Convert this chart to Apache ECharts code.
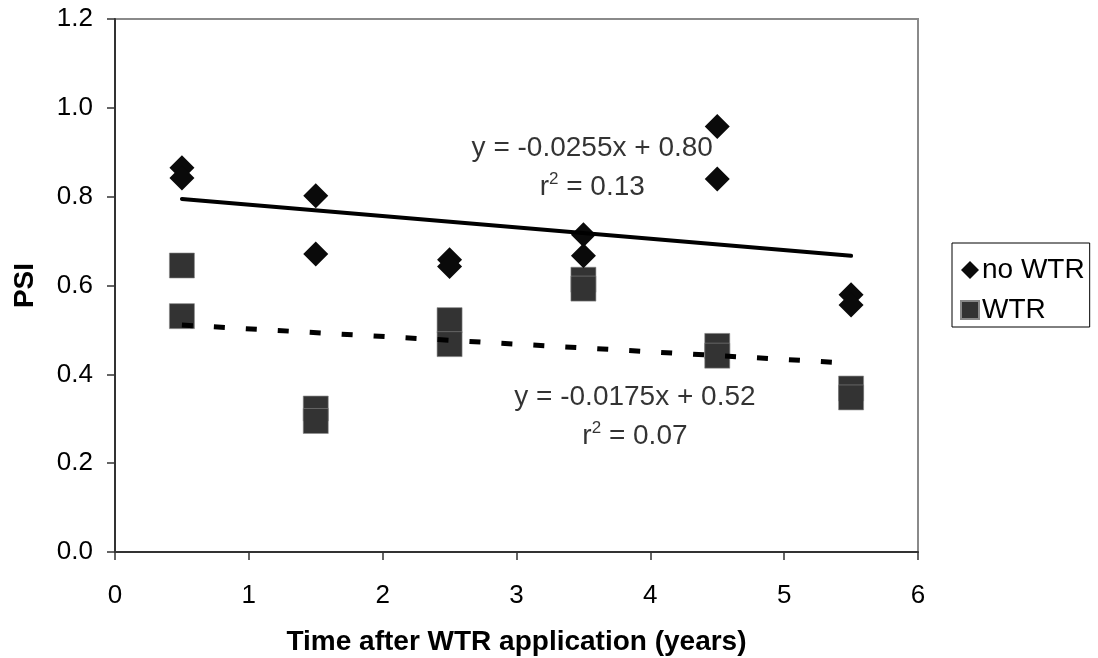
<!DOCTYPE html>
<html>
<head>
<meta charset="utf-8">
<script src="https://cdn.jsdelivr.net/npm/echarts@6/dist/echarts.min.js"></script>
<style>html,body{margin:0;padding:0;background:#fff}#c{width:1098px;height:658px}</style>
</head>
<body>
<div id="c"></div>
<script>
// Data
const xValues = [0.5, 0.5, 1.5, 1.5, 2.5, 2.5, 3.5, 3.5, 4.5, 4.5, 5.5, 5.5];
const noWTR = [0.865, 0.842, 0.802, 0.671, 0.658, 0.643, 0.714, 0.667, 0.958, 0.840, 0.579, 0.556];
const WTR   = [0.645, 0.531, 0.323, 0.295, 0.522, 0.468, 0.613, 0.593, 0.464, 0.442, 0.368, 0.348];
const trendNoWTR = [[0.5, 0.795], [5.5, 0.667]];
const trendWTR   = [[0.5, 0.511], [5.5, 0.425]];
const eqNoWTR = {x: 3.566, y: 0.866, line1: 'y = -0.0255x + 0.80', r2: '0.13'};
const eqWTR   = {x: 3.885, y: 0.305, line1: 'y = -0.0175x + 0.52', r2: '0.07'};
const xTicks = {min: 0, max: 6, interval: 1};
const yTicks = {min: 0, max: 1.2, interval: 0.2};

const FONT = '"Liberation Sans", Arial, sans-serif';
const chart = echarts.init(document.getElementById('c'), null, {renderer: 'canvas'});

function eqLabel(eq) {
  return {
    show: true,
    position: 'inside',
    formatter: eq.line1 + '\n{r|r}{sup|2}{r| = ' + eq.r2 + '}',
    color: '#000',
    fontFamily: FONT,
    fontSize: 28,
    lineHeight: 39,
    align: 'center',
    verticalAlign: 'middle',
    rich: {
      r: {fontFamily: FONT, fontSize: 28, color: '#000', lineHeight: 39},
      sup: {fontFamily: FONT, fontSize: 17, color: '#000', lineHeight: 39, padding: [0, 0, 15, 0]}
    }
  };
}

chart.setOption({
  animation: false,
  backgroundColor: '#fff',
  grid: {left: 115, right: 180, top: 19, bottom: 106, outerBoundsMode: 'none', containLabel: false,
         show: true, borderColor: '#8a8a8a', borderWidth: 2, backgroundColor: 'transparent'},
  legend: {
    data: ['no WTR', 'WTR'],
    orient: 'vertical',
    left: 952, top: 243,
    padding: [13, 5, 3, 8],
    itemGap: 12,
    itemWidth: 18, itemHeight: 18,
    borderColor: '#000', borderWidth: 1,
    textStyle: {fontFamily: FONT, fontSize: 28, color: '#000', padding: [0, 0, 0, -2]}
  },
  xAxis: {
    type: 'value', min: xTicks.min, max: xTicks.max, interval: xTicks.interval,
    name: 'Time after WTR application (years)', nameLocation: 'middle', nameGap: 76,
    nameTextStyle: {fontFamily: FONT, fontSize: 28, fontWeight: 'bold', color: '#000'},
    axisLine: {show: true, onZero: false, lineStyle: {color: '#333', width: 2}},
    axisTick: {show: true, length: 8, inside: false, lineStyle: {color: '#333', width: 1.5}},
    axisLabel: {fontFamily: FONT, fontSize: 26, color: '#000', margin: 31},
    splitLine: {show: false}
  },
  yAxis: {
    type: 'value', min: yTicks.min, max: yTicks.max, interval: yTicks.interval,
    name: 'PSI', nameLocation: 'middle', nameGap: 76,
    nameTextStyle: {fontFamily: FONT, fontSize: 28, fontWeight: 'bold', color: '#000'},
    axisLine: {show: true, onZero: false, lineStyle: {color: '#333', width: 2}},
    axisTick: {show: true, length: 8, lineStyle: {color: '#333', width: 1.5}},
    axisLabel: {fontFamily: FONT, fontSize: 26, color: '#000', margin: 22, formatter: v => v.toFixed(1)},
    splitLine: {show: false}
  },
  series: [
    {
      name: 'no WTR', type: 'scatter', symbol: 'diamond', symbolSize: 25,
      itemStyle: {color: '#0a0a0a', opacity: 1}, z: 3,
      data: xValues.map((x, i) => [x, noWTR[i]])
    },
    {
      name: 'WTR', type: 'scatter', symbol: 'rect', symbolSize: 25,
      itemStyle: {color: '#333333', opacity: 1, borderColor: '#888', borderWidth: 0.6}, z: 2,
      data: xValues.map((x, i) => [x, WTR[i]])
    },
    {
      name: 'trend no WTR', type: 'line', data: trendNoWTR, showSymbol: false, symbol: 'none',
      lineStyle: {color: '#000', width: 4, cap: 'round'}, z: 4, silent: true
    },
    {
      name: 'trend WTR', type: 'line', data: trendWTR, showSymbol: false, symbol: 'none',
      lineStyle: {color: '#000', width: 5, type: [11, 21]}, z: 4, silent: true
    },
    {
      name: 'eq no WTR', type: 'scatter', symbolSize: 0, silent: true, z: 5,
      data: [[eqNoWTR.x, eqNoWTR.y]], label: eqLabel(eqNoWTR)
    },
    {
      name: 'eq WTR', type: 'scatter', symbolSize: 0, silent: true, z: 5,
      data: [[eqWTR.x, eqWTR.y]], label: eqLabel(eqWTR)
    }
  ]
});
</script>
</body>
</html>
